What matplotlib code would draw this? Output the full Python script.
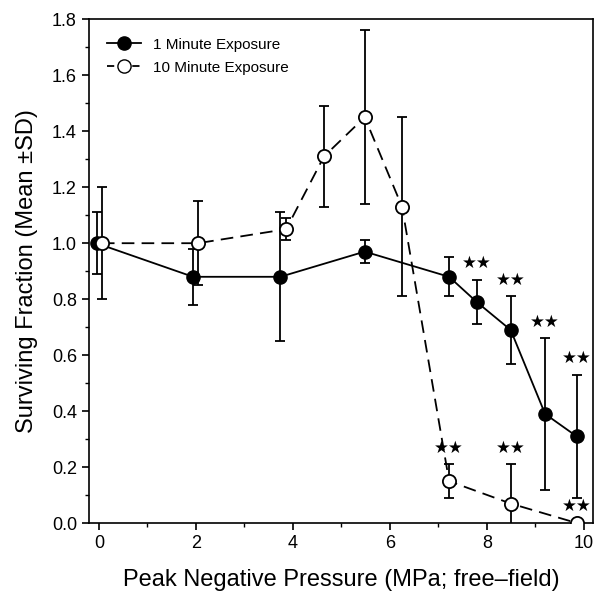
import numpy as np
import matplotlib
matplotlib.use('Agg')
import matplotlib.pyplot as plt
from matplotlib.ticker import MultipleLocator
from matplotlib.lines import Line2D

plt.rcParams['font.family'] = ['Liberation Sans', 'DejaVu Sans']

# 1 minute exposure
x1 = [-0.05, 1.94, 3.74, 5.48, 7.22, 7.79, 8.49, 9.20, 9.85]
y1 = [1.00, 0.88, 0.88, 0.97, 0.88, 0.79, 0.69, 0.39, 0.31]
e1 = [0.11, 0.10, 0.23, 0.04, 0.07, 0.08, 0.12, 0.27, 0.22]

# 10 minute exposure
x10 = [0.06, 2.04, 3.86, 4.64, 5.48, 6.25, 7.22, 8.49, 9.86]
y10 = [1.00, 1.00, 1.05, 1.31, 1.45, 1.13, 0.15, 0.07, 0.00]
e10 = [0.20, 0.15, 0.04, 0.18, 0.31, 0.32, 0.06, 0.14, 0.00]

# significance markers (index into each series)
sig1 = [5, 6, 7, 8]
sig10 = [6, 7, 8]

fig = plt.figure(figsize=(6.04, 6.02), dpi=100)
ax = fig.add_axes([0.147, 0.131, 0.835, 0.837])

ax.errorbar(x1, y1, yerr=e1, fmt='-o', color='black', mfc='black', mec='black',
            ms=9.5, lw=1.3, elinewidth=1.3, capsize=3.5, capthick=1.3, zorder=3)
ax.errorbar(x10, y10, yerr=e10, fmt='--o', color='black', mfc='white', mec='black',
            ms=9.5, mew=1.3, lw=1.3, elinewidth=1.3, capsize=3.5, capthick=1.3,
            dashes=(7, 4), zorder=4)

for i in sig1:
    ax.text(x1[i], y1[i] + e1[i] + 0.06, '\u2605\u2605', ha='center', va='center',
            fontsize=12, family='DejaVu Sans')
for i in sig10:
    ax.text(x10[i], y10[i] + e10[i] + 0.06, '\u2605\u2605', ha='center', va='center',
            fontsize=12, family='DejaVu Sans')

ax.set_xlim(-0.21, 10.19)
ax.set_ylim(0, 1.8)
ax.xaxis.set_major_locator(MultipleLocator(2))
ax.xaxis.set_minor_locator(MultipleLocator(1))
ax.yaxis.set_major_locator(MultipleLocator(0.2))
ax.yaxis.set_minor_locator(MultipleLocator(0.1))
ax.yaxis.set_major_formatter(matplotlib.ticker.FormatStrFormatter('%.1f'))
ax.tick_params(which='major', direction='out', length=5, width=1.2, labelsize=13,
               top=False, right=False)
ax.tick_params(which='minor', direction='out', length=3, width=1.0,
               top=False, right=False)
for s in ax.spines.values():
    s.set_linewidth(1.2)

ax.set_xlabel('Peak Negative Pressure (MPa; free\u2013field)', fontsize=17, labelpad=12)
ax.set_ylabel('Surviving Fraction (Mean \u00b1SD)', fontsize=17, labelpad=10)

handles = [
    Line2D([], [], color='black', lw=1.3, marker='o', ms=9.5, mfc='black'),
    Line2D([], [], color='black', lw=1.3, marker='o', ms=9.5, mfc='white',
           dashes=(4, 3)),
]
ax.legend(handles, ['1 Minute Exposure', '10 Minute Exposure'], loc='upper left',
          frameon=False, fontsize=11, handlelength=2.2, borderaxespad=0.8,
          handletextpad=0.8, labelspacing=0.6)

fig.savefig('out.png', dpi=100)
